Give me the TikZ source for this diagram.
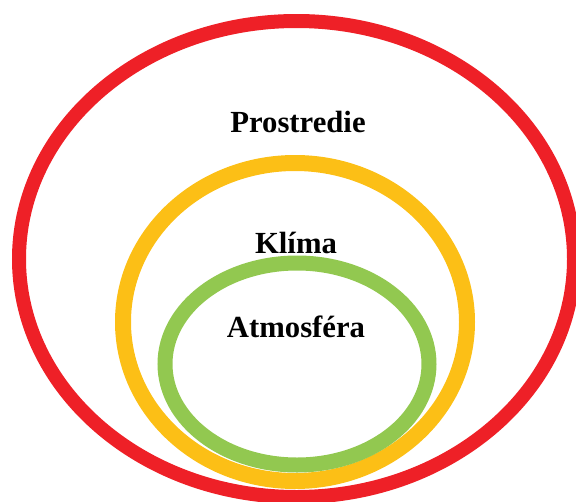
\documentclass[tikz,border=0pt]{standalone}
\usepackage{fontspec}
\setmainfont{Liberation Serif}
\usepackage{tikz}
\definecolor{ringred}{RGB}{238,32,39}
\definecolor{ringorange}{RGB}{252,191,22}
\definecolor{ringgreen}{RGB}{146,200,80}
\tikzset{
    ring/.style = {line width=#1},
    label/.style = {font=\fontsize{30.7}{36}\selectfont\bfseries,
                    anchor=base,
                    inner sep=0pt
    }
}

\begin{document}
\begin{tikzpicture}[x=1pt,y=-1pt]
    \useasboundingbox (0,0) rectangle (576,501);
    \clip (0,0) rectangle (576,501);

    \draw[ring=14pt,ringred]    (296.5,259) ellipse [x radius=277.5, y radius=238];
    \draw[ring=16pt,ringorange] (295,322)   ellipse [x radius=172, y radius=159];
    \draw[ring=15pt,ringgreen]  (297,364)   ellipse [x radius=132, y radius=101];

    \node [label] (prostredie) at (298,132) {Prostredie};
    \node [label] (klima)      at (296,253) {Klíma};
    \node [label] (atmosfera)  at (296,337) {Atmosféra};
\end{tikzpicture}
\end{document}
